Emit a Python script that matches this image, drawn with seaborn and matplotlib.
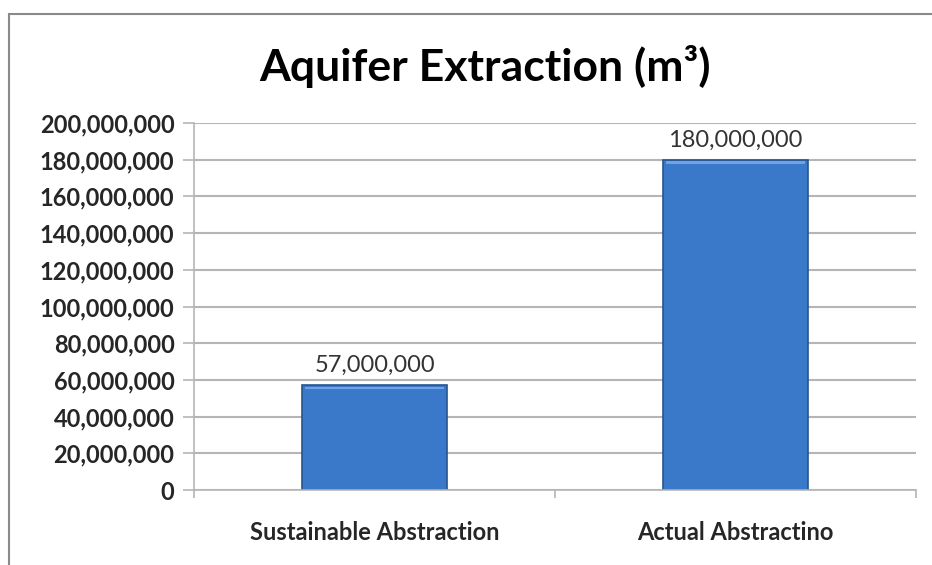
import matplotlib
matplotlib.use("Agg")
import matplotlib.pyplot as plt
import seaborn as sns
import pandas as pd
from matplotlib.ticker import FuncFormatter, FixedLocator
from matplotlib.patches import Rectangle

categories = ["Sustainable Abstraction", "Actual Abstractino"]
values = [57000000, 180000000]
title = "Aquifer Extraction (m³)"

df = pd.DataFrame({"category": categories, "value": values})

sns.set_theme(style="white")
plt.rcParams['font.family'] = ['Lato', 'DejaVu Sans']

fig = plt.figure(figsize=(9.32, 5.65), dpi=100)
fig.patch.set_facecolor("white")
ax = fig.add_axes([194/932, 1-490/565, (916-194)/932, (490-123)/565])

sns.barplot(data=df, x="category", y="value", ax=ax, color="#3A78C9",
            width=0.4, edgecolor="#28558F", linewidth=1.2, saturation=1)

# subtle bevel highlight along the top of each bar
for p in ax.patches:
    x0, w, h = p.get_x(), p.get_width(), p.get_height()
    ax.add_patch(Rectangle((x0 + w*0.02, h - 2200000), w*0.96, 1600000,
                           facecolor="#6FA3E6", edgecolor="none", zorder=p.get_zorder()+0.1))

ax.set_ylim(0, 200000000)
ax.set_xlim(-0.5, 1.5)
ax.set_yticks(range(0, 200000001, 20000000))
ax.yaxis.set_major_formatter(FuncFormatter(lambda v, p: f"{int(v):,}"))
ax.yaxis.grid(True, color="#b5b5b5", linewidth=1.5)
ax.set_axisbelow(True)

for s in ["top", "right"]:
    ax.spines[s].set_visible(False)
for s in ["left", "bottom"]:
    ax.spines[s].set_color("#b5b5b5")
    ax.spines[s].set_linewidth(1.2)

ax.tick_params(axis="y", length=8, color="#b5b5b5", width=1.2, labelsize=17, pad=6, left=True)
for lbl in ax.get_yticklabels():
    lbl.set_fontweight("bold")

ax.xaxis.set_major_locator(FixedLocator([-0.5, 0.5, 1.5]))
ax.xaxis.set_minor_locator(FixedLocator([0, 1]))
ax.set_xticklabels([], minor=False)
ax.set_xticklabels(categories, minor=True, fontsize=17, fontweight="bold")
ax.tick_params(axis="x", which="major", length=6, color="#b5b5b5", width=1.2, bottom=True)
ax.tick_params(axis="x", which="minor", length=0, pad=22)
ax.set_xlabel("")
ax.set_ylabel("")

for i, v in enumerate(values):
    ax.text(i, v + 5000000, f"{v:,}", ha="center", va="bottom", fontsize=17, color="#333333")

fig.text(485/932, 1-67/565, title, ha="center", va="center", fontsize=32, fontweight="bold", color="black")

fig.patches.append(Rectangle((9/932, -0.1), 1.2, 1 - 14/565 + 0.1, transform=fig.transFigure,
                             fill=False, edgecolor="#8a8a8a", linewidth=1.5))

fig.savefig("out.png", dpi=100)
